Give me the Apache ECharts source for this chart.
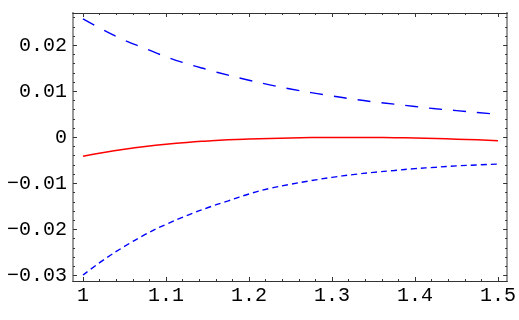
<!DOCTYPE html>
<html>
<head>
<meta charset="utf-8">
<script src="https://cdn.jsdelivr.net/npm/echarts@6/dist/echarts.min.js"></script>
<style>
html, body { margin: 0; padding: 0; background: #fff; }
#chart { width: 519px; height: 320px; }
</style>
</head>
<body>
<div id="chart"></div>
<script>
// values
var xs = [1.000, 1.025, 1.050, 1.075, 1.100, 1.125, 1.150, 1.175, 1.200, 1.225, 1.250,
          1.275, 1.300, 1.325, 1.350, 1.375, 1.400, 1.425, 1.450, 1.475, 1.500];
var upper = [0.0257, 0.0233, 0.0211, 0.0193, 0.0175, 0.0160, 0.0147, 0.0135, 0.0124, 0.0114, 0.0105,
             0.0097, 0.0090, 0.0083, 0.0077, 0.0072, 0.0067, 0.0062, 0.0058, 0.0054, 0.0050];
var lower = [-0.0299, -0.0266, -0.0237, -0.0211, -0.0189, -0.0170, -0.0153, -0.0138, -0.0123, -0.0111, -0.0102,
             -0.0094, -0.0087, -0.0081, -0.0076, -0.0072, -0.0068, -0.0065, -0.0062, -0.0060, -0.0058];
var diff = [-0.0041, -0.0033, -0.0026, -0.0020, -0.0015, -0.0011, -0.0008, -0.00055, -0.00037, -0.00023, -0.00013,
            -0.00006, -0.00002, -0.00001, -0.00003, -0.00008, -0.00016, -0.00027, -0.0004, -0.00055, -0.00072];

var xTicks = [1, 1.1, 1.2, 1.3, 1.4, 1.5];
var xTickLabels = ['1', '1.1', '1.2', '1.3', '1.4', '1.5'];
var yTicks = [-0.03, -0.02, -0.01, 0, 0.01, 0.02];
var yTickLabels = ['\u22120.03', '\u22120.02', '\u22120.01', '0', '0.01', '0.02'];

var xMin = 0.988, xMax = 1.511;
var yMin = -0.0312, yMax = 0.027;

// minor ticks every 0.02 on x, 0.002 on y
var xMinor = [];
for (var i = 0; i <= 25; i++) xMinor.push(Math.round((1 + i * 0.02) * 1000) / 1000);
var yMinor = [];
for (var j = -15; j <= 13; j++) yMinor.push(Math.round(j * 0.002 * 10000) / 10000);

function pair(ys) {
    return xs.map(function (x, k) { return [x, ys[k]]; });
}

function labelFor(ticks, labels) {
    return function (v) {
        var best = 0;
        for (var k = 1; k < ticks.length; k++) {
            if (Math.abs(ticks[k] - v) < Math.abs(ticks[best] - v)) best = k;
        }
        return labels[best];
    };
}

var labelStyle = {
    fontFamily: 'Liberation Mono',
    fontSize: 20,
    color: '#000'
};

// one axis of the frame; several stacked on each side for major / minor ticks
function frameAxis(kind, pos, vals, len, lineColor, lineWidth, label) {
    var ax = {
        type: 'value',
        position: pos,
        min: kind === 'x' ? xMin : yMin,
        max: kind === 'x' ? xMax : yMax,
        axisLine: { show: true, onZero: false, lineStyle: { color: lineColor, width: lineWidth } },
        axisTick: { show: true, inside: true, length: len, customValues: vals, lineStyle: { color: '#333', width: 1 } },
        axisLabel: { show: false },
        splitLine: { show: false }
    };
    if (label) {
        ax.axisLabel = Object.assign({
            show: true,
            customValues: vals,
            margin: kind === 'x' ? 5 : 6,
            formatter: kind === 'x' ? labelFor(xTicks, xTickLabels) : labelFor(yTicks, yTickLabels)
        }, labelStyle);
    }
    return ax;
}

var chart = echarts.init(document.getElementById('chart'));
chart.setOption({
    animation: false,
    grid: { left: 73, right: 11, top: 13, bottom: 39, containLabel: false },
    xAxis: [
        frameAxis('x', 'bottom', xTicks, 4, '#333', 1, true),
        frameAxis('x', 'top', xTicks, 4, '#333', 1, false),
        frameAxis('x', 'bottom', xMinor, 2, '#333', 1, false),
        frameAxis('x', 'top', xMinor, 2, '#333', 1, false)
    ],
    yAxis: [
        frameAxis('y', 'left', yTicks, 4, '#9a9a9a', 2, true),
        frameAxis('y', 'right', yTicks, 4, '#9a9a9a', 2, false),
        frameAxis('y', 'left', yMinor, 2, '#9a9a9a', 2, false),
        frameAxis('y', 'right', yMinor, 2, '#9a9a9a', 2, false)
    ],
    series: [
        {
            name: 'upper',
            type: 'line',
            showSymbol: false,
            smooth: true,
            data: pair(upper),
            lineStyle: { color: '#0000ff', width: 1.4, type: [13, 11] }
        },
        {
            name: 'lower',
            type: 'line',
            showSymbol: false,
            smooth: true,
            data: pair(lower),
            lineStyle: { color: '#0000ff', width: 1.4, type: [6, 4] }
        },
        {
            name: 'diff',
            type: 'line',
            showSymbol: false,
            smooth: true,
            data: pair(diff),
            lineStyle: { color: '#ff0000', width: 1.5 }
        }
    ]
});
</script>
</body>
</html>
